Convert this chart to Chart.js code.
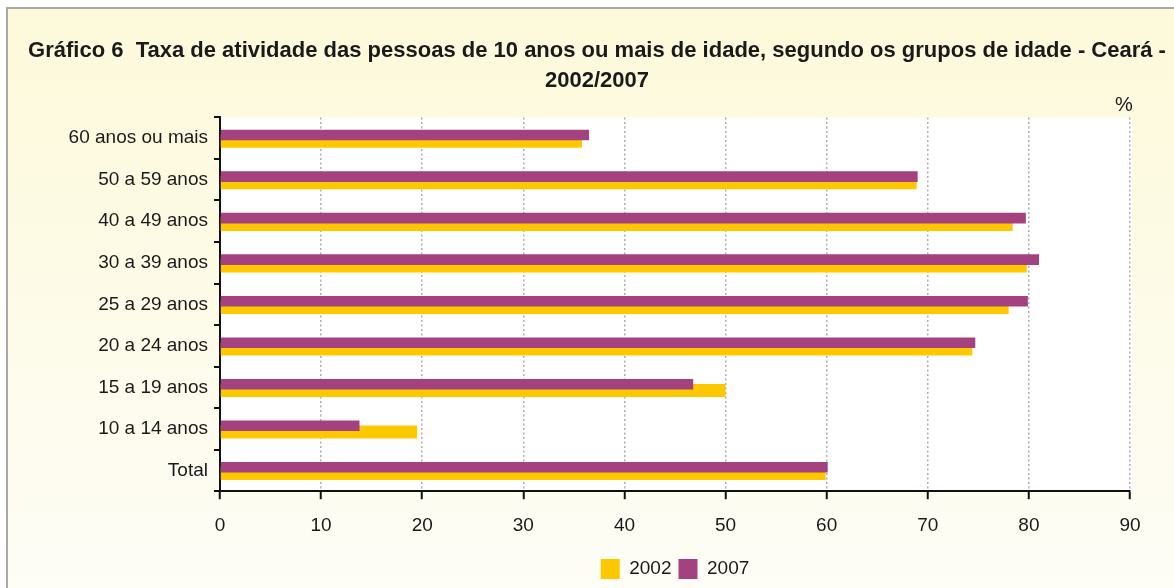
<!DOCTYPE html>
<html>
<head>
<meta charset="utf-8">
<script src="https://cdn.jsdelivr.net/npm/chart.js@4/dist/chart.umd.min.js"></script>
<style>
  html, body { margin: 0; padding: 0; background: #fff; }
  #wrap { width: 1174px; height: 588px; }
</style>
</head>
<body>
<div id="wrap"><canvas id="myBarChart" width="1174" height="588"></canvas></div>
<script>
const categories = ['60 anos ou mais', '50 a 59 anos', '40 a 49 anos', '30 a 39 anos',
                    '25 a 29 anos', '20 a 24 anos', '15 a 19 anos', '10 a 14 anos', 'Total'];
const values2002 = [35.8, 68.9, 78.4, 79.8, 78.0, 74.4, 50.0, 19.5, 59.9];
const values2007 = [36.5, 69.0, 79.7, 81.0, 79.9, 74.7, 46.8, 13.8, 60.1];
const xTicks = [0, 10, 20, 30, 40, 50, 60, 70, 80, 90];

const FONT = "'Liberation Sans Narrow', 'Arial Narrow', 'Liberation Sans', Arial, sans-serif";

// cream frame, white plot area and the "%" mark
const framePlugin = {
    id: 'frame',
    beforeDraw(chart) {
        const ctx = chart.ctx;
        const area = chart.chartArea;
        ctx.save();
        ctx.fillStyle = '#ffffff';
        ctx.fillRect(0, 0, chart.width, chart.height);
        const g = ctx.createLinearGradient(0, 8, 0, chart.height);
        g.addColorStop(0, '#fdf9da');
        g.addColorStop(1, '#fefdf6');
        ctx.fillStyle = g;
        ctx.fillRect(8, 8, chart.width, chart.height);
        ctx.strokeStyle = '#a9a9a9';
        ctx.lineWidth = 2;
        ctx.beginPath();
        ctx.moveTo(7, chart.height);
        ctx.lineTo(7, 8);
        ctx.lineTo(chart.width, 8);
        ctx.stroke();
        ctx.fillStyle = '#ffffff';
        ctx.fillRect(area.left, area.top, area.right - area.left + 2, area.bottom - area.top);
        ctx.fillStyle = '#1a1a1a';
        ctx.font = '20px ' + FONT;
        ctx.textAlign = 'center';
        ctx.textBaseline = 'bottom';
        ctx.fillText('%', area.right - 6, area.top - 2);
        ctx.restore();
    }
};

document.addEventListener('DOMContentLoaded', function () {
    const ctx = document.getElementById('myBarChart').getContext('2d');
    const barChart = new Chart(ctx, {
        type: 'bar',
        data: {
            labels: categories,
            datasets: [{
                label: '2007',
                data: values2007,
                backgroundColor: '#a4427f',
                borderWidth: 0,
                barPercentage: 1.7
            }, {
                label: '2002',
                data: values2002,
                backgroundColor: '#fdc800',
                borderWidth: 0,
                barPercentage: 2.1
            }]
        },
        options: {
            indexAxis: 'y',
            responsive: false,
            animation: false,
            categoryPercentage: 0.3,
            layout: { padding: { left: 20, right: 0, top: 10, bottom: -1 } },
            scales: {
                x: {
                    type: 'linear',
                    position: 'bottom',
                    min: 0,
                    max: 90,
                    afterBuildTicks: (scale) => { scale.ticks = xTicks.map(v => ({ value: v })); },
                    ticks: {
                        color: '#1a1a1a',
                        font: { family: FONT, size: 19 },
                        padding: 15
                    },
                    grid: {
                        color: '#b3a9b3',
                        lineWidth: 1.5,
                        tickColor: '#111',
                        tickWidth: 2,
                        tickLength: 8,
                        tickBorderDash: []
                    },
                    border: { color: '#111', width: 2, dash: [2, 2.5] }
                },
                y: {
                    type: 'category',
                    afterFit: (scale) => { scale.width = 200; },
                    ticks: {
                        color: '#1a1a1a',
                        font: { family: FONT, size: 19 },
                        padding: 6
                    },
                    grid: {
                        drawOnChartArea: false,
                        color: '#111',
                        lineWidth: 2,
                        tickLength: 6
                    },
                    border: { color: '#111', width: 2 }
                },
                yRight: {
                    type: 'category',
                    position: 'right',
                    afterFit: (scale) => { scale.width = 44; },
                    ticks: { display: false },
                    grid: { display: false },
                    border: { display: false }
                }
            },
            plugins: {
                title: {
                    display: true,
                    text: ['Gráfico 6  Taxa de atividade das pessoas de 10 anos ou mais de idade, segundo os grupos de idade - Ceará -',
                           '2002/2007'],
                    color: '#1a1a1a',
                    font: { family: FONT, size: 22, weight: 'bold', lineHeight: 1.35 },
                    padding: { top: 26, bottom: 22 }
                },
                legend: {
                    position: 'bottom',
                    fullSize: false,
                    labels: {
                        color: '#1a1a1a',
                        font: { family: FONT, size: 19 },
                        boxWidth: 19,
                        boxHeight: 20,
                        padding: 7,
                        sort: (a, b) => b.datasetIndex - a.datasetIndex
                    }
                },
                tooltip: { enabled: false }
            }
        },
        plugins: [framePlugin]
    });
});
</script>
</body>
</html>
